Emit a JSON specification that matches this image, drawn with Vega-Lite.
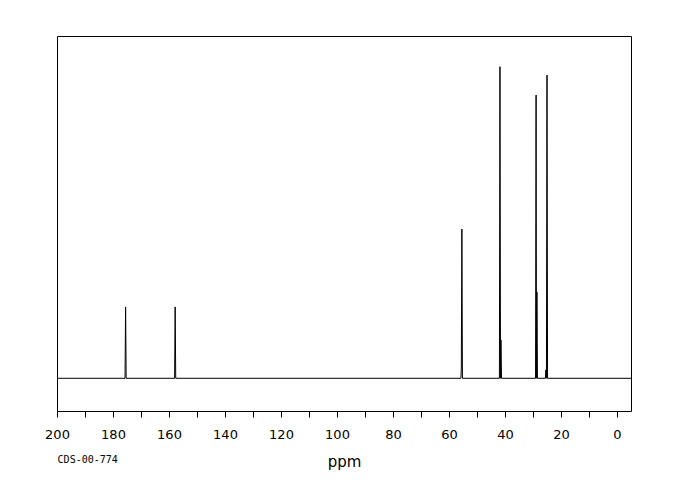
{
  "$schema": "https://vega.github.io/schema/vega-lite/v6.json",
  "width": 574,
  "height": 375,
  "autosize": "none",
  "padding": {"left": 57, "top": 36, "right": 49, "bottom": 89},
  "background": "white",
  "config": {"view": {"stroke": "black", "strokeWidth": 1}},
  "title": {"text": "CDS-00-774", "orient": "bottom", "anchor": "start", "fontSize": 10, "font": "DejaVu Sans Mono", "fontWeight": "normal", "color": "black", "offset": -14, "dx": 13},
  "data": {"values": [
    {"ppm": 200, "intensity": 0},
    {"ppm": 175.7, "intensity": 0},
    {"ppm": 175.5, "intensity": 22.9},
    {"ppm": 175.3, "intensity": 0},
    {"ppm": 158.0, "intensity": 0},
    {"ppm": 157.8, "intensity": 22.9},
    {"ppm": 157.6, "intensity": 0},
    {"ppm": 55.75, "intensity": 0},
    {"ppm": 55.6, "intensity": 3.0},
    {"ppm": 55.4, "intensity": 47.9},
    {"ppm": 55.2, "intensity": 0},
    {"ppm": 42.0, "intensity": 0},
    {"ppm": 41.8, "intensity": 100},
    {"ppm": 41.6, "intensity": 0},
    {"ppm": 41.45, "intensity": 12.3},
    {"ppm": 41.25, "intensity": 0},
    {"ppm": 29.1, "intensity": 0},
    {"ppm": 28.9, "intensity": 90.9},
    {"ppm": 28.75, "intensity": 0},
    {"ppm": 28.6, "intensity": 27.7},
    {"ppm": 28.4, "intensity": 0},
    {"ppm": 25.6, "intensity": 0},
    {"ppm": 25.4, "intensity": 2.7},
    {"ppm": 25.2, "intensity": 0},
    {"ppm": 25.0, "intensity": 97.3},
    {"ppm": 24.8, "intensity": 0},
    {"ppm": -5, "intensity": 0}
  ]},
  "mark": {"type": "line", "color": "black", "strokeWidth": 1, "interpolate": "linear"},
  "encoding": {
    "x": {
      "field": "ppm", "type": "quantitative",
      "scale": {"domain": [-5, 200], "reverse": true, "nice": false, "zero": false},
      "axis": {
        "values": [0,10,20,30,40,50,60,70,80,90,100,110,120,130,140,150,160,170,180,190,200],
        "labelExpr": "datum.value % 20 == 0 ? datum.label : ''",
        "domain": false, "grid": false,
        "tickSize": 6, "tickColor": "black", "tickWidth": 1,
        "labelPadding": 11, "labelFont": "DejaVu Sans", "labelFontSize": 13, "labelColor": "black",
        "labelOverlap": false, "labelFlush": false,
        "title": "ppm", "titleFont": "DejaVu Sans", "titleFontSize": 15, "titleFontWeight": "normal", "titleColor": "black", "titlePadding": 13
      }
    },
    "y": {
      "field": "intensity", "type": "quantitative",
      "scale": {"domain": [-10.5, 109.85], "nice": false, "zero": false},
      "axis": null
    }
  }
}
